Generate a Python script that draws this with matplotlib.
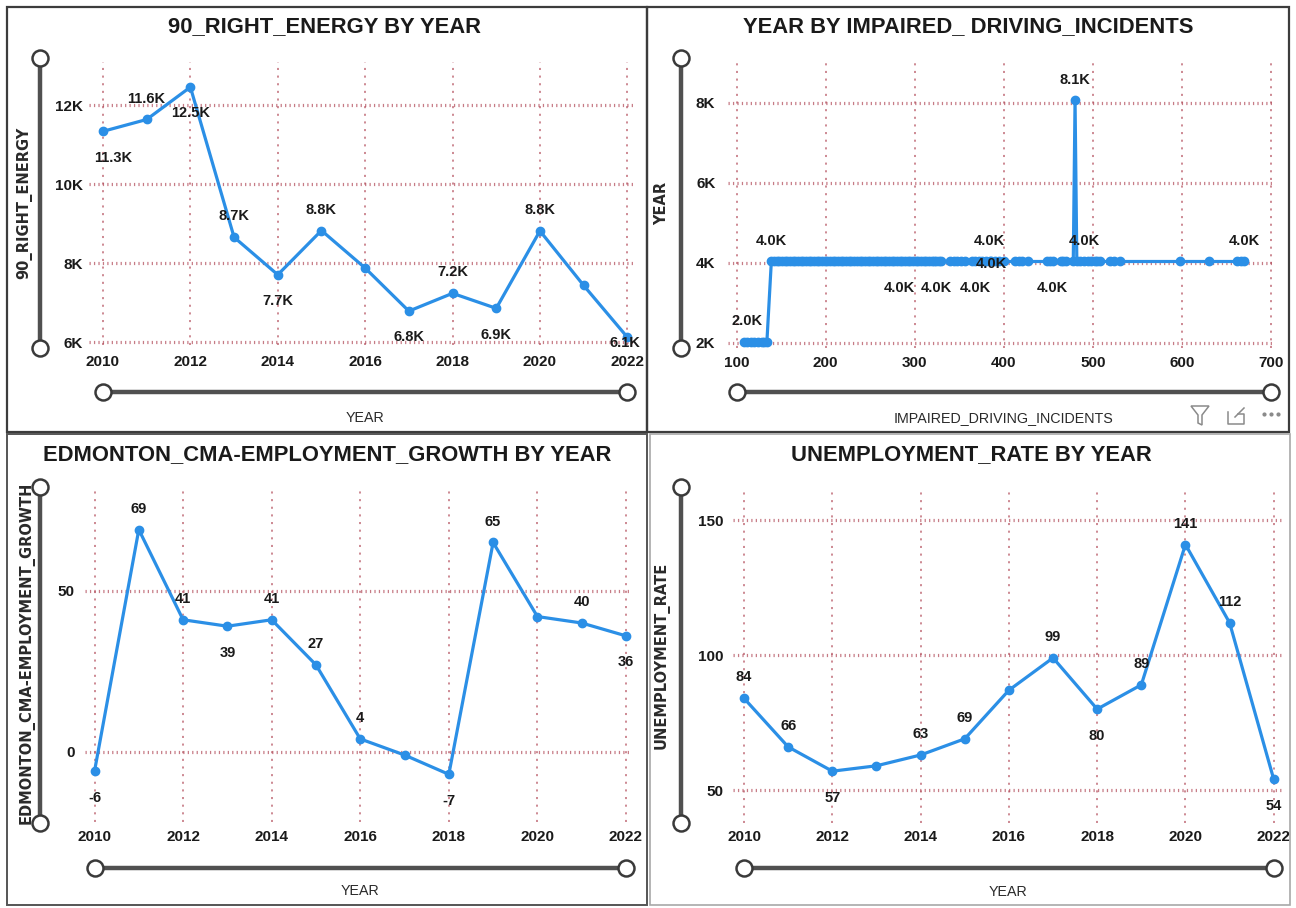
import matplotlib
matplotlib.use('Agg')
import matplotlib.pyplot as plt
from matplotlib.lines import Line2D
from matplotlib.patches import Rectangle, Polygon

plt.rcParams['lines.scale_dashes'] = False

# ---------------- data ----------------
years = [2010, 2011, 2012, 2013, 2014, 2015, 2016, 2017, 2018, 2019, 2020, 2021, 2022]
year_ticks = [2010, 2012, 2014, 2016, 2018, 2020, 2022]
year_tick_labels = ['2010', '2012', '2014', '2016', '2018', '2020', '2022']

energy = [11340, 11640, 12460, 8660, 7710, 8830, 7880, 6790, 7240, 6860, 8820, 7440, 6130]
energy_label_pos = ['below', 'above', 'below', 'above', 'below', 'above', None,
                    'below', 'above', 'below', 'above', None, 'below']
energy_yticks = [6000, 8000, 10000, 12000]
energy_ytick_labels = ['6K', '8K', '10K', '12K']

growth = [-6, 69, 41, 39, 41, 27, 4, -1, -7, 65, 42, 40, 36]
growth_label_pos = ['below', 'above', 'above', 'below', 'above', 'above', 'above',
                    None, 'below', 'above', None, 'above', 'below']
growth_yticks = [0, 50]
growth_ytick_labels = ['0', '50']

unemp = [84, 66, 57, 59, 63, 69, 87, 99, 80, 89, 141, 112, 54]
unemp_label_pos = ['above', 'above', 'below', None, 'above', 'above', None,
                   'above', 'below', 'above', 'above', 'above', 'below']
unemp_yticks = [50, 100, 150]
unemp_ytick_labels = ['50', '100', '150']

incidents = [108, 112, 116, 120, 124, 128, 131, 134,
             139, 142, 145, 148, 151, 154, 157, 160, 163, 166, 169, 172, 175, 178,
             181, 184, 187, 190, 193, 196, 199, 202, 205, 208, 211, 214, 217, 220,
             223, 226, 229, 232, 235, 238, 241, 244, 247, 250, 253, 256, 259, 262,
             265, 268, 271, 274, 277, 280, 283, 286, 289, 292, 295, 298, 301, 304,
             307, 310, 313, 316, 319, 322, 324, 327, 330, 340, 344, 348, 352, 356,
             364, 368, 372, 376, 380, 384, 386, 390, 395, 400, 413, 417, 421, 427,
             448, 452, 455, 464, 467, 470, 478, 480, 482, 486, 490, 494, 498, 502,
             505, 508, 519, 524, 530, 598, 630, 662, 666, 670]
year_sum = [2016] * 8 + [4032] * 91 + [8064] + [4032] * 16
inc_label_x = [112, 139, 283, 324, 368, 384, 386, 455, 480, 490, 670]
inc_label_pos = ['above', 'above', 'below', 'below', 'below', 'above', 'on',
                 'below', 'above', 'above', 'above']
inc_xticks = [100, 200, 300, 400, 500, 600, 700]
inc_xtick_labels = ['100', '200', '300', '400', '500', '600', '700']
inc_yticks = [2000, 4000, 6000, 8000]
inc_ytick_labels = ['2K', '4K', '6K', '8K']

titles = ['90_RIGHT_ENERGY BY YEAR', 'YEAR BY IMPAIRED_ DRIVING_INCIDENTS',
          'EDMONTON_CMA-EMPLOYMENT_GROWTH BY YEAR', 'UNEMPLOYMENT_RATE BY YEAR']
ylabels = ['90_RIGHT_ENERGY', 'YEAR', 'EDMONTON_CMA-EMPLOYMENT_GROWTH', 'UNEMPLOYMENT_RATE']
xlabels = ['YEAR', 'IMPAIRED_DRIVING_INCIDENTS', 'YEAR', 'YEAR']

# ---------------- style ----------------
W, H = 1296, 908
fig = plt.figure(figsize=(W / 100, H / 100), dpi=100)
fig.patch.set_facecolor('white')

COND = ['Liberation Sans', 'DejaVu Sans']
WIDE = ['DejaVu Sans']
BLUE = '#2B8FE6'
GRID = '#b4505e'
DARK = '#1a1a1a'


def fx(x):
    return x / W


def fy(y):
    return 1 - y / H


def make_axes(l, t, r, b):
    ax = fig.add_axes([fx(l), fy(b), (r - l) / W, (b - t) / H])
    for s in ax.spines.values():
        s.set_visible(False)
    ax.set_facecolor('none')
    ax.xaxis.grid(True, color=GRID, linestyle=(0, (1.5, 4.0)), linewidth=1.1, alpha=0.85)
    ax.yaxis.grid(True, color=GRID, linestyle=(0, (0.9, 2.3)), linewidth=2.3, alpha=0.75)
    ax.set_axisbelow(True)
    ax.tick_params(length=0)
    return ax


def set_ticks(ax, xt, xtl, yt, ytl, xpad, ypad):
    ax.set_xticks(xt)
    ax.set_xticklabels(xtl, fontfamily=COND, fontweight='bold', fontsize=11, color=DARK)
    ax.set_yticks(yt)
    ax.set_yticklabels(ytl, fontfamily=COND, fontweight='bold', fontsize=11, color=DARK)
    ax.tick_params(axis='x', pad=xpad)
    ax.tick_params(axis='y', pad=ypad)


def label(ax, x, y, txt, pos, dx=0, dy_extra=0):
    dy = {'above': 15, 'below': -19, 'on': -1.5}[pos] + dy_extra
    ax.annotate(txt, (x, y), xytext=(dx, dy), textcoords='offset points',
                ha='center', va='center', fontfamily=COND, fontweight='bold',
                fontsize=10.5, color=DARK, annotation_clip=False, zorder=5)


def plot_line(ax, x, y):
    ax.plot(x, y, color=BLUE, lw=2.3, marker='o', ms=6.0, mfc=BLUE, mec=BLUE,
            solid_joinstyle='round', zorder=3, clip_on=False)


def slider_v(x, y0, y1):
    fig.add_artist(Line2D([fx(x), fx(x)], [fy(y0), fy(y1)], color='#505050', lw=3.2,
                          transform=fig.transFigure, solid_capstyle='butt'))
    fig.add_artist(Line2D([fx(x), fx(x)], [fy(y0), fy(y1)], ls='none', marker='o', ms=11.5,
                          mfc='white', mec='#3a3a3a', mew=1.8, transform=fig.transFigure))


def slider_h(y, x0, x1):
    fig.add_artist(Line2D([fx(x0), fx(x1)], [fy(y), fy(y)], color='#505050', lw=3.2,
                          transform=fig.transFigure, solid_capstyle='butt'))
    fig.add_artist(Line2D([fx(x0), fx(x1)], [fy(y), fy(y)], ls='none', marker='o', ms=11.5,
                          mfc='white', mec='#3a3a3a', mew=1.8, transform=fig.transFigure))


def panel(l, t, r, b, color, lw):
    fig.add_artist(Rectangle((fx(l), fy(b)), (r - l) / W, (b - t) / H, fill=False,
                             edgecolor=color, lw=lw, transform=fig.transFigure))


# panel frames
panel(7, 7, 647, 432, '#3c3c3c', 1.6)
panel(647, 7, 1289, 432, '#3c3c3c', 1.6)
panel(7, 434, 647, 905, '#555555', 1.4)
panel(650, 434, 1290, 905, '#a8a8a8', 1.2)

# ---------------- top-left ----------------
ax1 = make_axes(89, 62, 633, 345)
plot_line(ax1, years, energy)
ax1.set_xlim(2009.68, 2022.13)
ax1.set_ylim(5932, 13095)
set_ticks(ax1, year_ticks, year_tick_labels, energy_yticks, energy_ytick_labels, 7.5, 4.3)
for i, (xv, yv, p) in enumerate(zip(years, energy, energy_label_pos)):
    if p is None:
        continue
    dx, dye = 0, 0
    if i == 0:
        dx = 7
    if i == len(years) - 1:
        dx, dye = -2, 15
    label(ax1, xv, yv, f'{yv / 1000:.1f}K', p, dx, dye)

# ---------------- top-right ----------------
ax2 = make_axes(727.6, 62, 1275, 348)
plot_line(ax2, incidents, year_sum)
ax2.set_xlim(89.9, 704.5)
ax2.set_ylim(1867, 9025)
set_ticks(ax2, inc_xticks, inc_xtick_labels, inc_yticks, inc_ytick_labels, 5.5, 8.8)
for xv, p in zip(inc_label_x, inc_label_pos):
    i = incidents.index(xv)
    label(ax2, xv, year_sum[i], f'{year_sum[i] / 1000:.1f}K', p)

# ---------------- bottom-left ----------------
ax3 = make_axes(85, 490, 632, 822)
plot_line(ax3, years, growth)
ax3.set_xlim(2009.785, 2022.136)
ax3.set_ylim(-21.8, 81.3)
set_ticks(ax3, year_ticks, year_tick_labels, growth_yticks, growth_ytick_labels, 6, 7.4)
for xv, yv, p in zip(years, growth, growth_label_pos):
    if p is not None:
        label(ax3, xv, yv, f'{yv}', p)

# ---------------- bottom-right ----------------
ax4 = make_axes(733, 490, 1283, 823)
plot_line(ax4, years, unemp)
ax4.set_xlim(2009.75, 2022.21)
ax4.set_ylim(37.8, 161.2)
set_ticks(ax4, year_ticks, year_tick_labels, unemp_yticks, unemp_ytick_labels, 5.3, 6.5)
for xv, yv, p in zip(years, unemp, unemp_label_pos):
    if p is not None:
        label(ax4, xv, yv, f'{yv}', p)

# ---------------- titles & axis titles ----------------
title_pos = [(325, 27), (968, 27), (327, 455), (971, 455)]
for t, (x, y) in zip(titles, title_pos):
    fig.text(fx(x), fy(y), t, ha='center', va='center', fontfamily=COND,
             fontweight='bold', fontsize=15.8, color=DARK)

ylab_pos = [(24, 203), (662, 203), (27, 653), (662, 655)]
for t, (x, y) in zip(ylabels, ylab_pos):
    fig.text(fx(x), fy(y), t, ha='center', va='center', rotation=90, fontfamily=WIDE,
             fontweight='bold', fontsize=10.5, color='#2a2a2a')

xlab_pos = [(365, 418), (1003, 418), (360, 891), (1008, 892)]
for t, (x, y) in zip(xlabels, xlab_pos):
    fig.text(fx(x), fy(y), t, ha='center', va='center', fontfamily=COND,
             fontsize=10.3, color='#2a2a2a')

# ---------------- sliders ----------------
slider_v(40, 58, 348)
slider_h(392, 103, 627)
slider_v(681, 58, 348)
slider_h(392, 737, 1271)
slider_v(40, 487, 823)
slider_h(868, 95, 626)
slider_v(681, 487, 823)
slider_h(868, 744, 1274)

# ---------------- visual header icons ----------------
funnel = [(1191, 406), (1209, 406), (1202, 415), (1202, 425), (1198, 423), (1198, 415)]
fig.add_artist(Polygon([(fx(a), fy(b)) for a, b in funnel], closed=True, fill=False,
                       edgecolor='#8a8a8a', lw=1.1, transform=fig.transFigure))
fig.add_artist(Line2D([fx(1228), fx(1228), fx(1244), fx(1244), fx(1238)],
                      [fy(412), fy(424), fy(424), fy(414), fy(414)], color='#8a8a8a',
                      lw=1.1, transform=fig.transFigure))
fig.add_artist(Line2D([fx(1235), fx(1244)], [fy(417), fy(408)], color='#8a8a8a',
                      lw=1.1, transform=fig.transFigure))
fig.add_artist(Line2D([fx(1264), fx(1271), fx(1278)], [fy(414)] * 3, ls='none',
                      marker='o', ms=2, color='#8a8a8a', transform=fig.transFigure))

fig.savefig('out.png', dpi=100, facecolor='white')
